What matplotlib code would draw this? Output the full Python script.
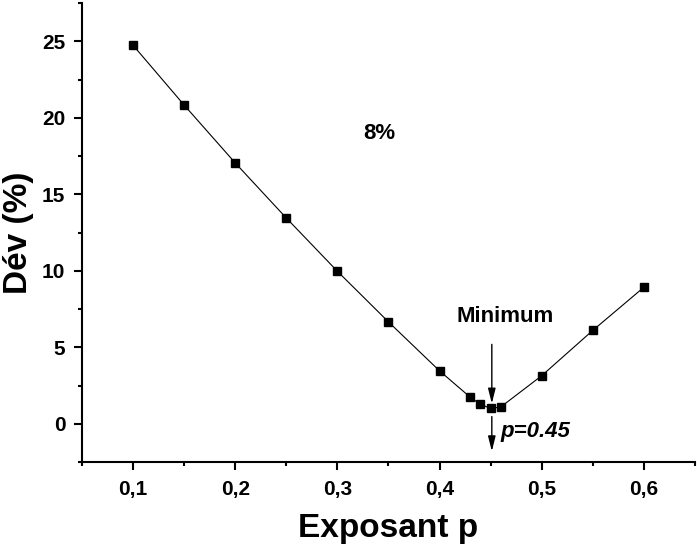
import matplotlib
matplotlib.use("Agg")
import matplotlib.pyplot as plt
from matplotlib.ticker import MultipleLocator, FuncFormatter

plt.rcParams['font.family'] = ['Liberation Sans', 'DejaVu Sans']

p = [0.10, 0.15, 0.20, 0.25, 0.30, 0.35, 0.40, 0.43, 0.44, 0.45, 0.46, 0.50, 0.55, 0.60]
dev = [24.74, 20.83, 17.05, 13.45, 9.97, 6.66, 3.46, 1.74, 1.28, 1.00, 1.10, 3.14, 6.10, 8.92]

fig = plt.figure(figsize=(6.97, 5.46), dpi=100)
ax = fig.add_axes([0.1176, 0.1538, 0.8794, 0.8407])

ax.plot(p, dev, color='black', lw=0.8, marker='s', markersize=6,
        markerfacecolor='black', markeredgecolor='black')

ax.set_xlim(0.05, 0.65)
ax.set_ylim(-2.5, 27.5)

ax.xaxis.set_major_locator(MultipleLocator(0.1))
ax.xaxis.set_minor_locator(MultipleLocator(0.05))
ax.yaxis.set_major_locator(MultipleLocator(5))
ax.yaxis.set_minor_locator(MultipleLocator(2.5))
ax.xaxis.set_major_formatter(FuncFormatter(lambda v, pos: f"{v:.1f}".replace('.', ',')))
ax.yaxis.set_major_formatter(FuncFormatter(lambda v, pos: f"{v:.0f}"))

for s in ['top', 'right']:
    ax.spines[s].set_visible(False)
for s in ['left', 'bottom']:
    ax.spines[s].set_linewidth(1.5)

ax.tick_params(which='major', direction='out', length=6, width=1.5, labelsize=15)
ax.tick_params(axis='x', which='major', pad=7)
ax.tick_params(axis='y', which='major', pad=6)
ax.tick_params(which='minor', direction='out', length=3, width=1.5)
for lab in ax.get_xticklabels() + ax.get_yticklabels():
    lab.set_fontweight('bold')

ax.set_xlabel('Exposant p', fontsize=24, fontweight='bold', labelpad=10)
ax.set_ylabel('Dév (%)', fontsize=24, fontweight='bold', labelpad=6)

ax.text(0.3415, 19.0, '8%', fontsize=16, fontweight='bold', ha='center', va='center')
ax.text(0.4645, 7.0, 'Minimum', fontsize=16, fontweight='bold', ha='center', va='center')
ax.text(0.4596, -0.48, 'p=0.45', fontsize=16, fontweight='bold', style='italic', ha='left', va='center')

astyle = '-|>,head_length=0.6,head_width=0.15'
ax.annotate('', xy=(0.4512, 1.32), xytext=(0.4512, 5.19),
            arrowprops=dict(arrowstyle=astyle, color='black', lw=1.0, mutation_scale=15,
                            shrinkA=0, shrinkB=0))
ax.annotate('', xy=(0.4512, -1.8), xytext=(0.4512, 0.47),
            arrowprops=dict(arrowstyle=astyle, color='black', lw=1.0, mutation_scale=15,
                            shrinkA=0, shrinkB=0))

fig.savefig('out.png', dpi=100)
